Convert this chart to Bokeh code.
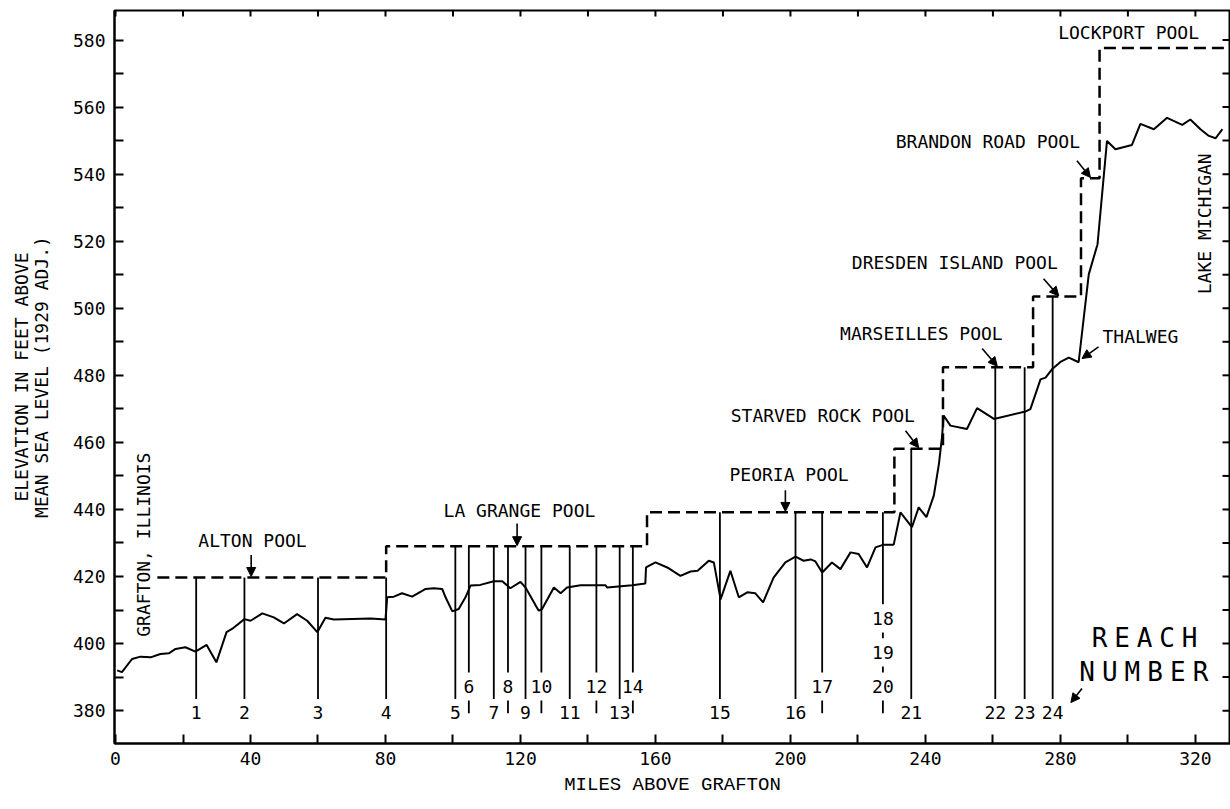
import numpy as np
from bokeh.plotting import figure
from bokeh.models import (Range1d, FixedTicker, Label, Arrow, NormalHead,
                          ColumnDataSource)
from bokeh.core.properties import value
from bokeh.embed import file_html
from bokeh.resources import INLINE

# ---------------- data ----------------
thalweg_mile = [0.5, 1.9, 4.9, 7.4, 10.4, 13.3, 15.8, 17.8, 20.7, 23.7, 27.0, 29.9,
                32.9, 35.0, 38.2, 40.0, 43.5, 46.9, 49.9, 53.8, 56.8, 59.8, 62.2,
                64.7, 75.6, 80.0, 80.5, 82.5, 84.9, 87.9, 91.9, 94.3, 96.8, 97.8,
                99.8, 101.7, 103.7, 105.2, 108.1, 112.1, 114.6, 117.0, 120.0, 121.5,
                125.4, 126.4, 129.9, 131.9, 133.8, 137.8, 145.2, 145.7, 153.1, 157.0,
                157.2, 160.0, 163.5, 167.4, 170.4, 172.5, 175.8, 177.3, 179.3, 182.2,
                184.7, 187.2, 189.6, 191.9, 195.0, 198.5, 201.5, 203.9, 206.0, 207.4,
                209.4, 212.3, 214.8, 217.8, 220.2, 222.7, 225.2, 227.6, 230.6, 232.6,
                236.0, 238.0, 240.3, 242.5, 244.0, 244.9, 245.4, 247.4, 252.3, 255.3,
                260.3, 269.6, 271.1, 274.1, 275.6, 277.5, 280.0, 282.5, 285.4, 288.4,
                291.0, 293.8, 296.3, 301.2, 303.7, 307.7, 311.6, 316.1, 318.5, 321.5,
                324.0, 326.0, 328.0]
thalweg_elev = [392.0, 391.5, 395.4, 396.1, 395.9, 396.9, 397.1, 398.4, 398.9, 397.6,
                399.6, 394.4, 403.4, 404.7, 407.3, 406.8, 409.0, 407.8, 406.0, 408.8,
                406.8, 403.4, 407.7, 407.2, 407.5, 407.2, 413.8, 414.0, 415.0, 414.0,
                416.3, 416.5, 416.3, 413.8, 409.6, 410.3, 413.8, 417.3, 417.5, 418.6,
                418.6, 416.5, 418.4, 416.7, 409.8, 410.3, 416.7, 415.0, 416.7, 417.4,
                417.4, 416.7, 417.4, 417.9, 422.7, 424.2, 422.7, 420.2, 421.5, 421.7,
                424.7, 424.2, 413.2, 421.7, 413.8, 415.3, 415.0, 412.3, 419.7, 424.2,
                425.9, 424.7, 425.1, 424.5, 421.2, 424.2, 422.2, 427.2, 426.7, 422.7,
                428.7, 429.5, 429.5, 439.1, 434.7, 440.6, 437.7, 444.2, 453.6, 461.5,
                468.0, 465.0, 464.0, 470.2, 467.0, 469.2, 469.9, 478.8, 479.3, 481.8,
                484.0, 485.3, 483.9, 510.1, 519.1, 549.9, 547.4, 548.7, 555.0, 553.4,
                556.8, 554.7, 556.3, 553.4, 551.4, 550.7, 553.4]

pool_names = ["ALTON POOL", "LA GRANGE POOL", "PEORIA POOL", "STARVED ROCK POOL",
              "MARSEILLES POOL", "DRESDEN ISLAND POOL", "BRANDON ROAD POOL",
              "LOCKPORT POOL"]
pool_start = [12.4, 80.2, 157.5, 230.8, 245.2, 271.9, 286.1, 291.6]
pool_end = [80.2, 157.5, 230.8, 245.2, 271.9, 286.1, 291.6, 331.0]
pool_level = [419.7, 429.0, 439.2, 458.1, 482.4, 503.5, 538.8, 577.6]

reach_number = list(range(1, 25))
reach_mile = [23.9, 38.2, 60.0, 80.2, 100.7, 104.7, 112.1, 116.3, 121.5, 126.2,
              134.6, 142.5, 149.4, 153.3, 179.1, 201.5, 209.4, 227.4, 227.4, 227.4,
              235.8, 260.7, 269.4, 277.7]
# label row under each reach line (0 = bottom row, higher = stacked above)
reach_row = [0, 0, 0, 0, 0, 1, 0, 1, 0, 1, 0, 1, 0, 1, 0, 0, 1, 3, 2, 1, 0, 0, 0, 0]

x_ticks = [0, 40, 80, 120, 160, 200, 240, 280, 320]
x_minor = [20, 60, 100, 140, 180, 220, 260, 300]
y_ticks = [380, 400, 420, 440, 460, 480, 500, 520, 540, 560, 580]
y_minor = [370, 390, 410, 430, 450, 470, 490, 510, 530, 550, 570, 590]

# ---------------- figure ----------------
FONT = "DejaVu Sans Mono"
row_elev = [379.3, 387.2, 397.4, 407.5]
X0, X1, Y0, Y1 = -0.3, 330.4, 370.2, 588.8

p = figure(width=1230, height=809, output_backend="svg", toolbar_location=None,
           x_range=Range1d(X0, X1), y_range=Range1d(Y0, Y1),
           min_border_left=114, min_border_right=0, min_border_top=10,
           min_border_bottom=66, background_fill_color="white",
           border_fill_color="white")
p.xgrid.visible = False
p.ygrid.visible = False
p.outline_line_color = "black"
p.outline_line_width = 2

for ax in (p.xaxis[0], p.yaxis[0]):
    ax.axis_line_width = 2
    ax.major_tick_in = 9
    ax.major_tick_out = 0
    ax.minor_tick_in = 9
    ax.minor_tick_out = 0
    ax.major_tick_line_width = 2
    ax.minor_tick_line_width = 2
    ax.major_label_text_font = FONT
    ax.major_label_text_font_size = "18px"
    ax.major_label_text_color = "black"
    ax.axis_label_text_font_style = "normal"
    ax.axis_label_text_color = "black"
p.xaxis[0].ticker = FixedTicker(ticks=x_ticks, minor_ticks=x_minor)
p.yaxis[0].ticker = FixedTicker(ticks=y_ticks, minor_ticks=y_minor)
p.xaxis[0].major_label_standoff = 8
p.yaxis[0].major_label_standoff = 9

p.xaxis[0].axis_label = "MILES ABOVE GRAFTON"
p.xaxis[0].axis_label_text_font = "Liberation Mono"
p.xaxis[0].axis_label_text_font_size = "19px"
p.xaxis[0].axis_label_standoff = 6

p.yaxis[0].axis_label = "ELEVATION IN FEET ABOVE\nMEAN SEA LEVEL (1929 ADJ.)"
p.yaxis[0].axis_label_text_font = FONT
p.yaxis[0].axis_label_text_font_size = "18px"
p.yaxis[0].axis_label_standoff = 18
p.yaxis[0].axis_label_text_line_height = 0.95

# inward ticks on the top and right frame edges (from the tick arrays)
top_t = [t for t in x_ticks + x_minor]
p.segment(top_t, [Y1] * len(top_t), top_t, [Y1 - 6 / 3.3535] * len(top_t),
          line_color="black", line_width=2)
right_t = [t for t in y_ticks + y_minor if Y0 < t < Y1]
p.segment([X1] * len(right_t), right_t, [X1 - 8 / 3.375] * len(right_t), right_t,
          line_color="black", line_width=2)

# ---------------- pools (dashed step) ----------------
pool_x, pool_y = [], []
for s, e, lv in zip(pool_start, pool_end, pool_level):
    pool_x += [s, e]
    pool_y += [lv, lv]
p.line(pool_x, pool_y, line_color="black", line_width=2.5, line_dash="12 6")

# ---------------- thalweg ----------------
p.line(thalweg_mile, thalweg_elev, line_color="black", line_width=2)


def pool_at(m):
    for s, e, lv in zip(pool_start, pool_end, pool_level):
        if s < m <= e:
            return lv
    return pool_level[-1]


# ---------------- reach lines ----------------
seg_x0, seg_y0, seg_x1, seg_y1 = [], [], [], []
groups = {}
for n, m, r in zip(reach_number, reach_mile, reach_row):
    groups.setdefault(m, []).append(r)
for m, rows in groups.items():
    top_row = max(rows)
    seg_x0.append(m); seg_x1.append(m)
    seg_y0.append(pool_at(m)); seg_y1.append(row_elev[top_row] + 4.2)
    for r in rows:
        if r >= 1:
            lo = row_elev[r] - 8 if r == 1 else row_elev[r - 1] + 4.2
            seg_x0.append(m); seg_x1.append(m)
            seg_y0.append(row_elev[r] - 4.2); seg_y1.append(lo)
p.segment(seg_x0, seg_y0, seg_x1, seg_y1, line_color="black", line_width=1.8)

lab_src = ColumnDataSource(dict(
    x=reach_mile, y=[row_elev[r] for r in reach_row],
    t=[str(n) for n in reach_number]))
p.text(x="x", y="y", text="t", source=lab_src, text_font=value(FONT),
       text_font_size="18px", text_align="center", text_baseline="middle",
       text_color="black")

# ---------------- annotations ----------------
def lab(x, y, text, size="18px", angle=0.0, font=FONT):
    p.add_layout(Label(x=x, y=y, text=text, text_font=font, text_font_size=size,
                       text_align="center", text_baseline="middle", angle=angle,
                       text_color="black"))


def arrow(x0, y0, x1, y1):
    p.add_layout(Arrow(end=NormalHead(size=9, line_color="black", fill_color="black"),
                       x_start=x0, y_start=y0, x_end=x1, y_end=y1,
                       line_color="black", line_width=1.6))


pool_text_pos = [(40.6, 430.7), (119.7, 439.8), (199.6, 450.4), (209.6, 468.0),
                 (238.8, 492.6), (248.7, 513.5), (258.5, 549.7), (300.2, 582.2)]
for name, (tx, ty) in zip(pool_names, pool_text_pos):
    lab(tx, ty, name)

arrow(40.2, 426.4, 40.2, 420.0)
arrow(119.0, 435.8, 119.0, 429.2)
arrow(198.5, 445.7, 198.5, 439.4)
arrow(234.1, 463.5, 238.0, 458.4)
arrow(256.8, 488.0, 261.3, 482.7)
arrow(275.0, 508.8, 279.5, 503.7)
arrow(284.9, 544.0, 288.9, 539.0)

lab(303.7, 491.6, "THALWEG")
arrow(291.3, 488.5, 286.4, 485.0)

lab(322.7, 525.2, "LAKE MICHIGAN", angle=np.pi / 2)
lab(8.4, 429.5, "GRAFTON, ILLINOIS", angle=np.pi / 2)

for i, ch in enumerate("REACH"):
    lab(291.6 + i * 6.67, 401.6, ch, size="26px")
for i, ch in enumerate("NUMBER"):
    lab(287.9 + i * 6.72, 391.6, ch, size="26px")
arrow(286.4, 386.6, 283.1, 382.4)

open("out.html", "w").write(file_html(p, INLINE))
